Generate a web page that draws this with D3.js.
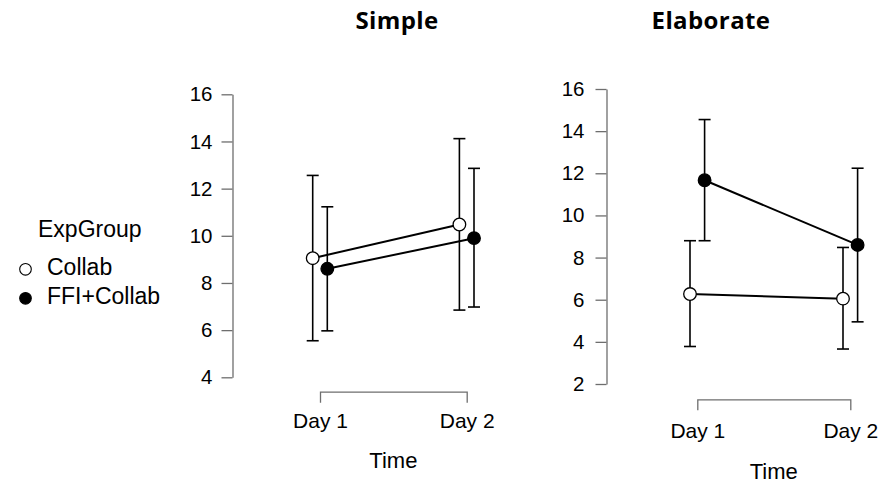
<!DOCTYPE html>
<html>
<head>
<meta charset="utf-8">
<script src="https://cdn.jsdelivr.net/npm/d3@7"></script>
<style>
  html, body { margin: 0; padding: 0; background: #fff; }
  svg { display: block; }
</style>
</head>
<body>
<svg id="chart" width="880" height="484"></svg>
<script>
// Descriptive plot data: means with 95% CI per panel, time point and group
const times = ["Day 1", "Day 2"];
const groups = ["Collab", "FFI+Collab"];
const panelNames = ["Simple", "Elaborate"];

const simpleMean  = { "Collab": [9.05, 10.48], "FFI+Collab": [8.6, 9.9] };
const simpleLower = { "Collab": [5.55, 6.85], "FFI+Collab": [5.97, 6.98] };
const simpleUpper = { "Collab": [12.56, 14.12], "FFI+Collab": [11.23, 12.86] };

const elabMean  = { "Collab": [6.27, 6.05], "FFI+Collab": [11.67, 8.6] };
const elabLower = { "Collab": [3.78, 3.66], "FFI+Collab": [8.8, 4.95] };
const elabUpper = { "Collab": [8.8, 8.48], "FFI+Collab": [14.55, 12.24] };

const simpleTicks = [4, 6, 8, 10, 12, 14, 16];
const elabTicks = [2, 4, 6, 8, 10, 12, 14, 16];

const svg = d3.select("#chart");
const FONT = "'Liberation Sans', Arial, sans-serif";
const AXIS_COLOR = "#6e6e6e";

const panels = [
  { title: panelNames[0], mean: simpleMean, lower: simpleLower, upper: simpleUpper,
    ticks: simpleTicks, yRange: [377.3, 94.3], axisX: 232.5, xRange: [320, 466.7],
    bracketY: 391.7, dayOffset: 36.5, timeY: 468, titleX: 397, tickPad: 9 },
  { title: panelNames[1], mean: elabMean, lower: elabLower, upper: elabUpper,
    ticks: elabTicks, yRange: [384, 89], axisX: 606.5, xRange: [697.3, 850.3],
    bracketY: 399.3, dayOffset: 38.5, timeY: 479, titleX: 711, tickPad: 11 }
];

panels.forEach(p => {
  const g = svg.append("g");

  const y = d3.scaleLinear()
    .domain([d3.min(p.ticks), d3.max(p.ticks)])
    .range(p.yRange);
  const x = d3.scalePoint().domain(times).range(p.xRange).padding(0);
  const dodge = d3.scalePoint().domain(groups).range([-7.3, 7.3]);

  // Panel title
  g.append("text")
    .attr("x", p.titleX).attr("y", 29)
    .attr("text-anchor", "middle")
    .style("font-family", "'Open Sans', sans-serif")
    .style("font-weight", 700)
    .style("font-size", "24px")
    .style("letter-spacing", "0.4px")
    .text(p.title);

  // Y axis
  const yAxis = g.append("g")
    .attr("transform", `translate(${p.axisX},0)`)
    .call(d3.axisLeft(y).tickValues(p.ticks).tickSizeInner(11).tickSizeOuter(0).tickPadding(p.tickPad));
  yAxis.select(".domain").attr("stroke", AXIS_COLOR).attr("stroke-width", 1.3);
  yAxis.selectAll(".tick line").attr("stroke", AXIS_COLOR).attr("stroke-width", 1.3);
  yAxis.selectAll(".tick text")
    .style("font-family", FONT).style("font-size", "20.5px").attr("fill", "#000");

  // X axis drawn as a bracket
  const xAxis = g.append("g")
    .attr("transform", `translate(0,${p.bracketY})`)
    .call(d3.axisBottom(x).tickSizeInner(0).tickSizeOuter(11));
  xAxis.select(".domain").attr("stroke", AXIS_COLOR).attr("stroke-width", 1.3);
  xAxis.selectAll(".tick line").remove();
  xAxis.selectAll(".tick text")
    .attr("y", p.dayOffset).attr("dy", 0)
    .style("font-family", FONT).style("font-size", "21px").attr("fill", "#000");

  // X axis title
  g.append("text")
    .attr("x", (p.xRange[0] + p.xRange[1]) / 2).attr("y", p.timeY)
    .attr("text-anchor", "middle")
    .style("font-family", FONT).style("font-size", "22px")
    .text("Time");

  const line = d3.line()
    .x((d, i) => x(times[i]) + d.off)
    .y(d => y(d.v));

  groups.forEach(grp => {
    const off = dodge(grp);
    const pts = p.mean[grp].map(v => ({ v, off }));

    g.append("path")
      .datum(pts)
      .attr("d", line)
      .attr("fill", "none")
      .attr("stroke", "#000")
      .attr("stroke-width", 2);

    // Error bars with caps
    times.forEach((t, i) => {
      const cx = x(t) + off;
      const lo = y(p.lower[grp][i]);
      const hi = y(p.upper[grp][i]);
      g.append("line")
        .attr("x1", cx).attr("x2", cx).attr("y1", lo).attr("y2", hi)
        .attr("stroke", "#000").attr("stroke-width", 1.6);
      [lo, hi].forEach(yy => {
        g.append("line")
          .attr("x1", cx - 6).attr("x2", cx + 6).attr("y1", yy).attr("y2", yy)
          .attr("stroke", "#000").attr("stroke-width", 1.6);
      });
    });
  });

  // Points on top
  groups.forEach(grp => {
    const off = dodge(grp);
    g.selectAll(null)
      .data(p.mean[grp])
      .enter().append("circle")
      .attr("cx", (d, i) => x(times[i]) + off)
      .attr("cy", d => y(d))
      .attr("r", 6.3)
      .attr("fill", grp === "Collab" ? "#fff" : "#000")
      .attr("stroke", "#000")
      .attr("stroke-width", 1.3);
  });
});

// Legend
const legend = svg.append("g");
legend.append("text")
  .attr("x", 38).attr("y", 237)
  .style("font-family", FONT).style("font-size", "23px")
  .text("ExpGroup");
groups.forEach((grp, i) => {
  const base = 274.5 + i * 29;
  legend.append("circle")
    .attr("cx", 25.5).attr("cy", base - 5.2).attr("r", 5.8)
    .attr("fill", grp === "Collab" ? "#fff" : "#000")
    .attr("stroke", "#000").attr("stroke-width", 1.1);
  legend.append("text")
    .attr("x", 47).attr("y", base)
    .style("font-family", FONT).style("font-size", "23px")
    .text(grp);
});
</script>
</body>
</html>
